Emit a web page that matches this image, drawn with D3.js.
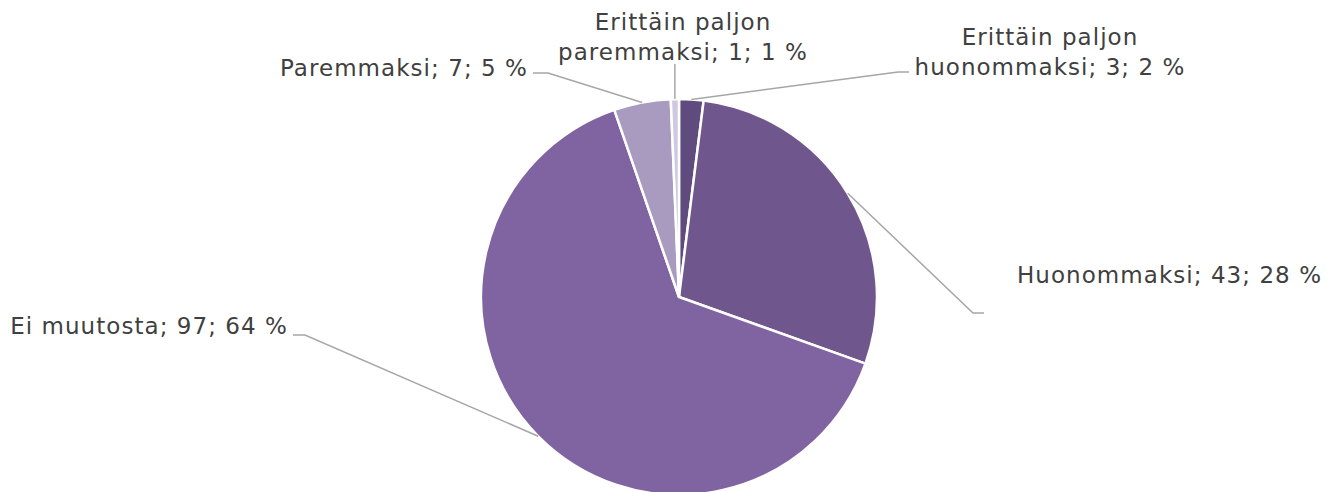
<!DOCTYPE html>
<html lang="fi">
<head>
<meta charset="UTF-8">
<title>Piirakkakaavio</title>
<script src="https://d3js.org/d3.v7.min.js"></script>
<style>
    body { margin: 0; background: #ffffff; }
    svg { display: block; }
    .label { font-family: "DejaVu Sans", Verdana, sans-serif; font-size: 23px; letter-spacing: 1.05px; fill: #404040; }
    .leader { fill: none; stroke: #a6a6a6; stroke-width: 1.5; }
</style>
</head>
<body>
<svg width="1326" height="492"></svg>
<script>
    // data
    const categories = ["Erittäin paljon huonommaksi", "Huonommaksi", "Ei muutosta", "Paremmaksi", "Erittäin paljon paremmaksi"];
    const values = [3, 43, 97, 7, 1];
    const percents = ["2 %", "28 %", "64 %", "5 %", "1 %"];
    const colors = ["#5f4b7e", "#6f578e", "#8064a2", "#a99bc0", "#d0c8de"];

    // label layout (text lines, anchor, elbow of leader line)
    const labelLayout = [
        { lines: ["Erittäin paljon", "huonommaksi; 3; 2 %"], x: 1050, y: 45, anchor: "middle", elbow: [898, 72], end: [909, 72] },
        { lines: ["Huonommaksi; 43; 28 %"], x: 1017, y: 283, anchor: "start", elbow: [973, 313], end: [984, 313] },
        { lines: ["Ei muutosta; 97; 64 %"], x: 288, y: 334, anchor: "end", elbow: [305, 335], end: [293, 335] },
        { lines: ["Paremmaksi; 7; 5 %"], x: 528, y: 76, anchor: "end", elbow: [548, 73], end: [533, 73] },
        { lines: ["Erittäin paljon", "paremmaksi; 1; 1 %"], x: 683, y: 30, anchor: "middle", elbow: null, end: null }
    ];

    const cx = 679, cy = 297, radius = 198;
    const svg = d3.select("svg");
    const g = svg.append("g").attr("transform", `translate(${cx},${cy})`);

    const pie = d3.pie().sort(null).value(d => d)(values);
    const arc = d3.arc().innerRadius(0).outerRadius(radius);

    g.selectAll("path.slice")
        .data(pie)
        .join("path")
        .attr("class", "slice")
        .attr("d", arc)
        .attr("fill", (d, i) => colors[i])
        .attr("stroke", "#ffffff")
        .attr("stroke-width", 2.5);

    // leader lines
    pie.forEach((d, i) => {
        const mid = (d.startAngle + d.endAngle) / 2;
        const px = cx + radius * Math.sin(mid);
        const py = cy - radius * Math.cos(mid);
        const L = labelLayout[i];
        let pts;
        if (L.elbow) {
            pts = [[px, py], L.elbow, L.end];
        } else {
            pts = [[px, py], [px, 64]];
        }
        svg.append("path")
            .attr("class", "leader")
            .attr("d", d3.line()(pts));
    });

    // labels
    labelLayout.forEach((L, i) => {
        const t = svg.append("text")
            .attr("class", "label")
            .attr("text-anchor", L.anchor);
        L.lines.forEach((line, k) => {
            t.append("tspan")
                .attr("x", L.x)
                .attr("y", L.y + k * 29.5)
                .text(line);
        });
    });
</script>
</body>
</html>
